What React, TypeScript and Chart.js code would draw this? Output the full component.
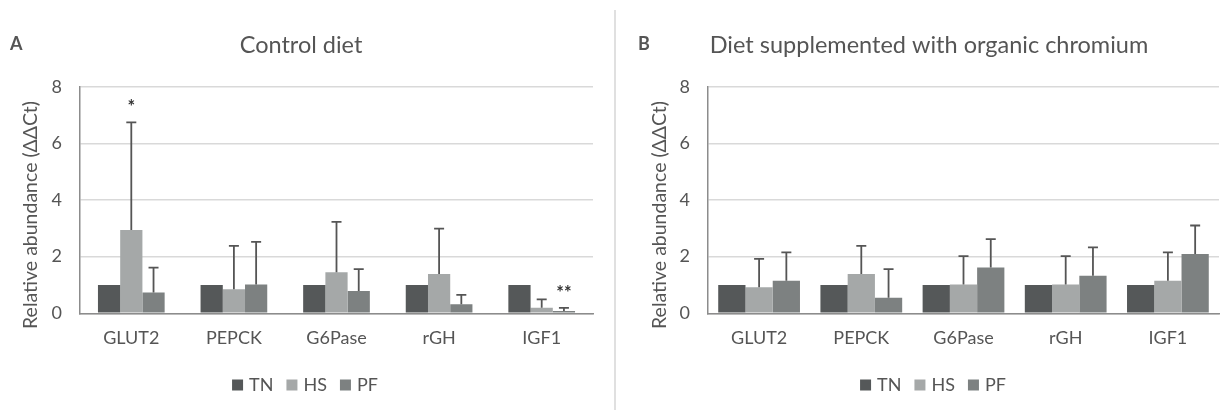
import React, { useEffect, useRef } from "react";
import { Chart, registerables } from "chart.js";

Chart.register(...registerables);

const categories = ["GLUT2", "PEPCK", "G6Pase", "rGH", "IGF1"];
const seriesNames = ["TN", "HS", "PF"];
const yTicks = [0, 2, 4, 6, 8];

// Panel A – control diet
const controlTN = [1, 1, 1, 1, 1];
const controlHS = [2.94, 0.85, 1.45, 1.39, 0.2];
const controlPF = [0.73, 1.02, 0.79, 0.32, 0.08];
const controlHSErr = [3.8, 1.53, 1.78, 1.6, 0.29];
const controlPFErr = [0.88, 1.5, 0.77, 0.33, 0.11];
const controlHSSig = ["*", "", "", "", ""];
const controlPFSig = ["", "", "", "", "**"];

// Panel B – diet supplemented with organic chromium
const chromTN = [1, 1, 1, 1, 1];
const chromHS = [0.92, 1.39, 1.02, 1.02, 1.15];
const chromPF = [1.15, 0.55, 1.62, 1.33, 2.09];
const chromHSErr = [1.0, 0.99, 1.0, 1.0, 1.0];
const chromPFErr = [1.0, 1.01, 1.0, 1.0, 1.01];
const chromHSSig = ["", "", "", "", ""];
const chromPFSig = ["", "", "", "", ""];

const COLORS = ["#555859", "#a5a8a8", "#7d8181"];
const TEXT = "#555555";
const FONT = "Lato, 'Open Sans', sans-serif";

type PanelProps = {
  letter: string;
  title: string;
  tn: number[];
  hs: number[];
  pf: number[];
  hsErr: number[];
  pfErr: number[];
  hsSig: string[];
  pfSig: string[];
  catPct: number;
  yAxisWidth: number;
  padRight: number;
  yTitleX: number;
  letterX: number;
  centerX: number;
  left: number;
  width: number;
};

function Panel(p: PanelProps) {
  const ref = useRef<HTMLCanvasElement | null>(null);
  useEffect(() => {
    if (!ref.current) return;
    const errors: (number[] | null)[] = [null, p.hsErr, p.pfErr];
    const sigs: (string[] | null)[] = [null, p.hsSig, p.pfSig];
    const overlay = {
      id: "overlay" + p.letter,
      afterDatasetsDraw(chart: any) {
        const ctx = chart.ctx;
        const ys = chart.scales.y;
        ctx.save();
        for (let d = 0; d < 3; d++) {
          const errs = errors[d];
          if (!errs) continue;
          const meta = chart.getDatasetMeta(d);
          const vals = chart.data.datasets[d].data as number[];
          meta.data.forEach((bar: any, i: number) => {
            const topPx = ys.getPixelForValue(vals[i] + errs[i]);
            ctx.strokeStyle = "#555555";
            ctx.lineWidth = 1.8;
            ctx.beginPath();
            ctx.moveTo(bar.x, bar.y);
            ctx.lineTo(bar.x, topPx);
            ctx.moveTo(bar.x - 5, topPx);
            ctx.lineTo(bar.x + 5, topPx);
            ctx.stroke();
            const s = sigs[d] ? sigs[d]![i] : "";
            if (s) {
              ctx.fillStyle = "#333";
              ctx.font = "bold 18px " + FONT;
              ctx.textAlign = "center";
              ctx.textBaseline = "middle";
              ctx.fillText(s, bar.x, topPx - 15);
            }
          });
        }
        ctx.restore();
      },
      afterDraw(chart: any) {
        const ctx = chart.ctx;
        ctx.save();
        ctx.fillStyle = TEXT;
        ctx.textBaseline = "middle";
        // panel letter
        ctx.font = "bold 18px " + FONT;
        ctx.textAlign = "left";
        ctx.fillText(p.letter, p.letterX, 44);
        // panel title
        ctx.font = "23.5px " + FONT;
        ctx.textAlign = "center";
        ctx.fillText(p.title, p.centerX, 45);
        // legend
        ctx.font = "18px " + FONT;
        ctx.textAlign = "left";
        const box = 11;
        const items = chart.data.datasets.map((ds: any) => ({
          label: ds.label,
          color: ds.backgroundColor,
          w: box + 6 + ctx.measureText(ds.label).width,
        }));
        const gap = 13;
        const total = items.reduce((a: number, it: any) => a + it.w, 0) + gap * (items.length - 1);
        let x = p.centerX + 4 - total / 2;
        const ly = 385;
        items.forEach((it: any) => {
          ctx.fillStyle = it.color;
          ctx.fillRect(x, ly - box / 2, box, box);
          ctx.fillStyle = TEXT;
          ctx.fillText(it.label, x + box + 6, ly);
          x += it.w + gap;
        });
        // y-axis title
        ctx.font = "19.5px " + FONT;
        ctx.translate(p.yTitleX, 215);
        ctx.rotate(-Math.PI / 2);
        ctx.textAlign = "center";
        ctx.fillText("Relative abundance (ΔΔCt)", 0, 0);
        ctx.restore();
      },
    };
    const chart = new Chart(ref.current, {
      type: "bar",
      data: {
        labels: categories,
        datasets: [p.tn, p.hs, p.pf].map((d, i) => ({
          label: seriesNames[i],
          data: d,
          backgroundColor: COLORS[i],
          borderWidth: 0,
          barPercentage: 1,
          categoryPercentage: p.catPct,
        })),
      },
      options: {
        animation: false,
        responsive: false,
        maintainAspectRatio: false,
        layout: { padding: { left: 0, right: p.padRight, top: 86.7, bottom: 46.7 } },
        plugins: {
          tooltip: { enabled: false },
          title: { display: false },
          legend: { display: false },
        },
        scales: {
          x: {
            grid: { display: false, drawTicks: false },
            border: { color: "#8c8c8c", width: 1.5 },
            ticks: { color: TEXT, font: { family: FONT, size: 18 }, padding: 14 },
            afterFit: (s: any) => {
              s.height = 50;
            },
          },
          y: {
            min: 0,
            max: 8,
            afterBuildTicks: (s: any) => {
              s.ticks = yTicks.map((v) => ({ value: v }));
            },
            grid: { color: "#d9d9d9", lineWidth: 1.5, drawTicks: false },
            border: { color: "#8c8c8c", width: 1.5 },
            ticks: { color: TEXT, font: { family: FONT, size: 18 }, padding: 18 },
            afterFit: (s: any) => {
              s.width = p.yAxisWidth;
            },
          },
        },
      },
      plugins: [overlay],
    } as any);
    return () => chart.destroy();
  }, []);
  return (
    <div style={{ position: "absolute", left: p.left, top: 0, width: p.width, height: 410 }}>
      <canvas ref={ref} width={p.width} height={410} style={{ width: p.width, height: 410 }} />
    </div>
  );
}

export default function App() {
  return (
    <div style={{ position: "absolute", left: 0, top: 0, width: 1226, height: 410, background: "#fff", overflow: "hidden" }}>
      <Panel
        letter="A"
        title="Control diet"
        tn={controlTN}
        hs={controlHS}
        pf={controlPF}
        hsErr={controlHSErr}
        pfErr={controlPFErr}
        hsSig={controlHSSig}
        pfSig={controlPFSig}
        catPct={0.65}
        yAxisWidth={80}
        padRight={19}
        yTitleX={31}
        letterX={10}
        centerX={301}
        left={0}
        width={612}
      />
      <div style={{ position: "absolute", left: 614, top: 10, width: 2, height: 400, background: "#e0e0e0" }} />
      <Panel
        letter="B"
        title="Diet supplemented with organic chromium"
        tn={chromTN}
        hs={chromHS}
        pf={chromPF}
        hsErr={chromHSErr}
        pfErr={chromPFErr}
        hsSig={chromHSSig}
        pfSig={chromPFSig}
        catPct={0.8}
        yAxisWidth={78}
        padRight={7}
        yTitleX={30}
        letterX={8}
        centerX={299}
        left={630}
        width={596}
      />
    </div>
  );
}
